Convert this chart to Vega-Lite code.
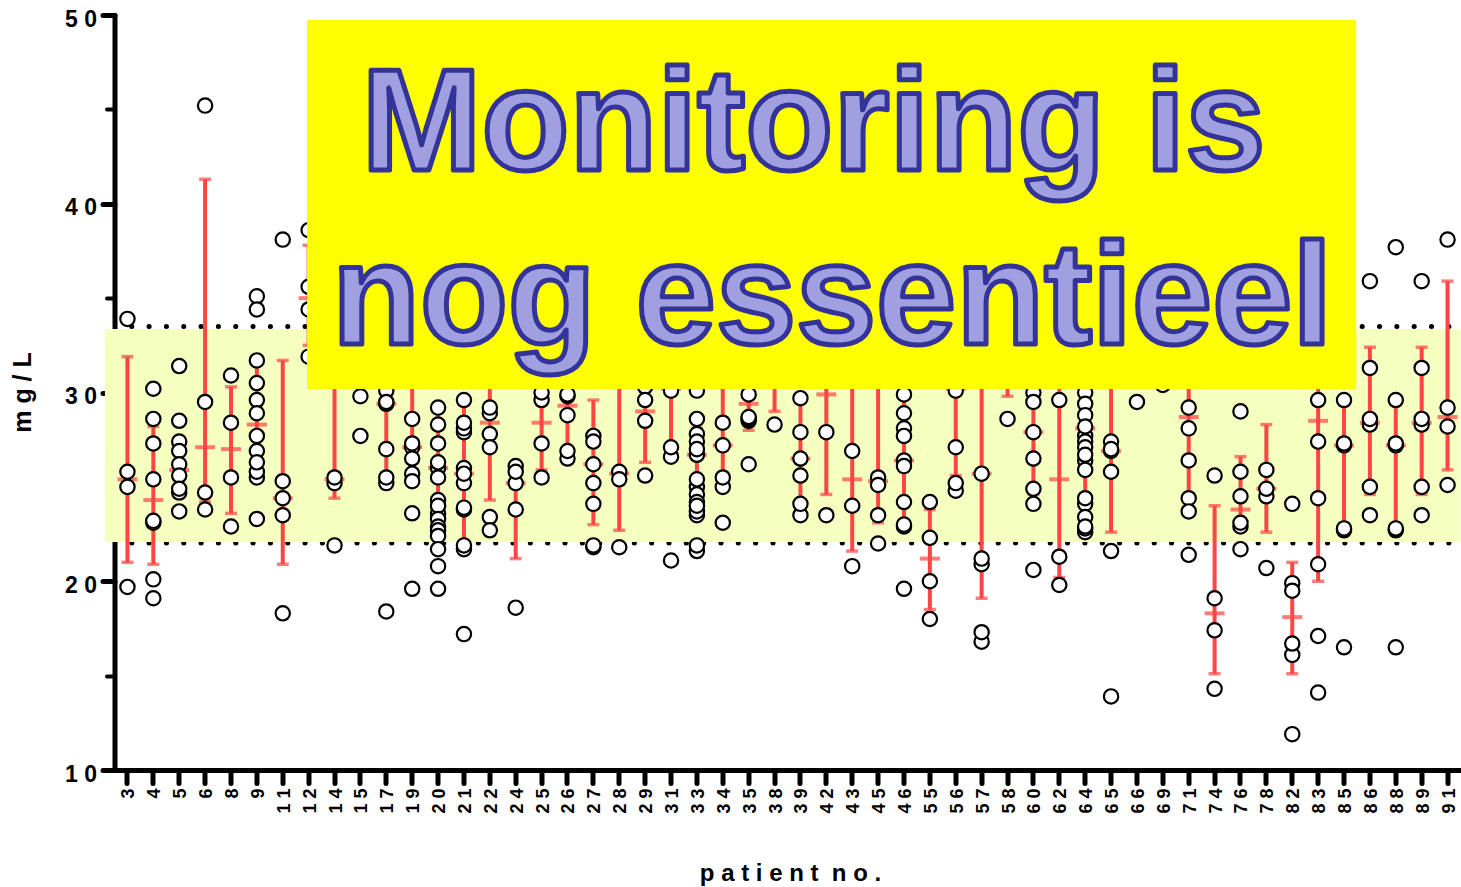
{"$schema":"https://vega.github.io/schema/vega-lite/v6.json","width":1346,"height":755,"autosize":{"type":"none"},"padding":{"left":114.5,"top":15,"right":0.5,"bottom":117},"background":"white","config":{"view":{"stroke":null},"font":"Liberation Sans"},
"datasets":{"points":[
{"patient":"3","value":33.9},{"patient":"3","value":25.8},{"patient":"3","value":25.0},{"patient":"3","value":19.7},
{"patient":"4","value":30.2},{"patient":"4","value":28.6},{"patient":"4","value":27.3},{"patient":"4","value":25.4},{"patient":"4","value":23.1},{"patient":"4","value":23.2},{"patient":"4","value":20.1},{"patient":"4","value":19.1},
{"patient":"5","value":31.4},{"patient":"5","value":28.5},{"patient":"5","value":27.4},{"patient":"5","value":26.9},{"patient":"5","value":26.2},{"patient":"5","value":25.6},{"patient":"5","value":24.7},{"patient":"5","value":24.9},{"patient":"5","value":23.7},
{"patient":"6","value":45.2},{"patient":"6","value":29.5},{"patient":"6","value":24.7},{"patient":"6","value":23.8},
{"patient":"8","value":30.9},{"patient":"8","value":28.4},{"patient":"8","value":25.5},{"patient":"8","value":22.9},
{"patient":"9","value":35.1},{"patient":"9","value":34.4},{"patient":"9","value":31.7},{"patient":"9","value":30.5},{"patient":"9","value":29.6},{"patient":"9","value":28.9},{"patient":"9","value":27.7},{"patient":"9","value":26.9},{"patient":"9","value":25.5},{"patient":"9","value":25.8},{"patient":"9","value":26.3},{"patient":"9","value":23.3},
{"patient":"11","value":38.1},{"patient":"11","value":25.3},{"patient":"11","value":24.4},{"patient":"11","value":23.5},{"patient":"11","value":18.3},
{"patient":"12","value":38.6},{"patient":"12","value":35.6},{"patient":"12","value":34.4},{"patient":"12","value":31.9},
{"patient":"14","value":25.2},{"patient":"14","value":25.5},{"patient":"14","value":21.9},
{"patient":"15","value":29.8},{"patient":"15","value":27.7},
{"patient":"17","value":30.1},{"patient":"17","value":29.4},{"patient":"17","value":29.5},{"patient":"17","value":27.0},{"patient":"17","value":25.2},{"patient":"17","value":25.5},{"patient":"17","value":18.4},
{"patient":"19","value":28.6},{"patient":"19","value":27.1},{"patient":"19","value":27.3},{"patient":"19","value":26.5},{"patient":"19","value":25.7},{"patient":"19","value":25.3},{"patient":"19","value":23.6},{"patient":"19","value":19.6},
{"patient":"20","value":29.2},{"patient":"20","value":28.3},{"patient":"20","value":27.3},{"patient":"20","value":26.0},{"patient":"20","value":26.3},{"patient":"20","value":25.5},{"patient":"20","value":24.3},{"patient":"20","value":23.6},{"patient":"20","value":24.0},{"patient":"20","value":23.3},{"patient":"20","value":22.9},{"patient":"20","value":22.7},{"patient":"20","value":22.4},{"patient":"20","value":21.7},{"patient":"20","value":20.8},{"patient":"20","value":19.6},
{"patient":"21","value":29.6},{"patient":"21","value":27.9},{"patient":"21","value":28.1},{"patient":"21","value":28.4},{"patient":"21","value":26.0},{"patient":"21","value":25.2},{"patient":"21","value":25.7},{"patient":"21","value":23.8},{"patient":"21","value":23.9},{"patient":"21","value":21.7},{"patient":"21","value":21.9},{"patient":"21","value":17.2},
{"patient":"22","value":28.9},{"patient":"22","value":29.2},{"patient":"22","value":27.8},{"patient":"22","value":27.1},{"patient":"22","value":23.4},{"patient":"22","value":22.7},
{"patient":"24","value":26.1},{"patient":"24","value":25.2},{"patient":"24","value":25.8},{"patient":"24","value":23.8},{"patient":"24","value":18.6},
{"patient":"25","value":29.6},{"patient":"25","value":30.0},{"patient":"25","value":27.3},{"patient":"25","value":25.5},
{"patient":"26","value":29.8},{"patient":"26","value":29.9},{"patient":"26","value":28.8},{"patient":"26","value":26.5},{"patient":"26","value":26.9},
{"patient":"27","value":27.7},{"patient":"27","value":27.4},{"patient":"27","value":26.2},{"patient":"27","value":25.2},{"patient":"27","value":24.1},{"patient":"27","value":21.8},{"patient":"27","value":21.9},
{"patient":"28","value":25.8},{"patient":"28","value":25.4},{"patient":"28","value":21.8},
{"patient":"29","value":30.3},{"patient":"29","value":29.6},{"patient":"29","value":28.5},{"patient":"29","value":25.6},
{"patient":"31","value":30.1},{"patient":"31","value":26.6},{"patient":"31","value":27.1},{"patient":"31","value":21.1},
{"patient":"33","value":30.1},{"patient":"33","value":28.6},{"patient":"33","value":27.8},{"patient":"33","value":27.4},{"patient":"33","value":26.7},{"patient":"33","value":27.0},{"patient":"33","value":25.0},{"patient":"33","value":25.4},{"patient":"33","value":24.6},{"patient":"33","value":23.5},{"patient":"33","value":23.7},{"patient":"33","value":24.2},{"patient":"33","value":24.0},{"patient":"33","value":21.6},{"patient":"33","value":21.9},
{"patient":"34","value":28.4},{"patient":"34","value":27.2},{"patient":"34","value":25.0},{"patient":"34","value":25.5},{"patient":"34","value":23.1},
{"patient":"35","value":29.9},{"patient":"35","value":28.5},{"patient":"35","value":28.6},{"patient":"35","value":28.7},{"patient":"35","value":26.2},
{"patient":"38","value":28.3},
{"patient":"39","value":29.7},{"patient":"39","value":27.9},{"patient":"39","value":26.5},{"patient":"39","value":25.6},{"patient":"39","value":23.5},{"patient":"39","value":24.1},
{"patient":"42","value":27.9},{"patient":"42","value":23.5},
{"patient":"43","value":26.9},{"patient":"43","value":24.0},{"patient":"43","value":20.8},
{"patient":"45","value":25.5},{"patient":"45","value":25.1},{"patient":"45","value":23.5},{"patient":"45","value":22.0},
{"patient":"46","value":29.9},{"patient":"46","value":28.9},{"patient":"46","value":28.1},{"patient":"46","value":27.7},{"patient":"46","value":26.4},{"patient":"46","value":26.1},{"patient":"46","value":24.2},{"patient":"46","value":22.9},{"patient":"46","value":23.0},{"patient":"46","value":19.6},
{"patient":"55","value":24.2},{"patient":"55","value":22.3},{"patient":"55","value":20.0},{"patient":"55","value":18.0},
{"patient":"56","value":30.1},{"patient":"56","value":27.1},{"patient":"56","value":24.8},{"patient":"56","value":25.2},
{"patient":"57","value":25.7},{"patient":"57","value":20.9},{"patient":"57","value":21.2},{"patient":"57","value":16.8},{"patient":"57","value":17.3},
{"patient":"58","value":28.6},
{"patient":"60","value":30.0},{"patient":"60","value":29.5},{"patient":"60","value":27.9},{"patient":"60","value":26.5},{"patient":"60","value":24.9},{"patient":"60","value":24.1},{"patient":"60","value":20.6},
{"patient":"62","value":29.6},{"patient":"62","value":21.3},{"patient":"62","value":19.8},
{"patient":"64","value":30.0},{"patient":"64","value":29.4},{"patient":"64","value":28.8},{"patient":"64","value":27.7},{"patient":"64","value":27.4},{"patient":"64","value":27.1},{"patient":"64","value":28.2},{"patient":"64","value":26.4},{"patient":"64","value":25.9},{"patient":"64","value":26.7},{"patient":"64","value":24.1},{"patient":"64","value":24.4},{"patient":"64","value":23.4},{"patient":"64","value":22.6},{"patient":"64","value":22.8},{"patient":"64","value":22.9},
{"patient":"65","value":27.4},{"patient":"65","value":26.9},{"patient":"65","value":27.0},{"patient":"65","value":25.8},{"patient":"65","value":21.6},{"patient":"65","value":13.9},
{"patient":"66","value":29.5},
{"patient":"69","value":30.4},
{"patient":"71","value":29.2},{"patient":"71","value":28.1},{"patient":"71","value":26.4},{"patient":"71","value":24.4},{"patient":"71","value":23.7},{"patient":"71","value":21.4},
{"patient":"74","value":25.6},{"patient":"74","value":19.1},{"patient":"74","value":17.4},{"patient":"74","value":14.3},
{"patient":"76","value":29.0},{"patient":"76","value":25.8},{"patient":"76","value":24.5},{"patient":"76","value":22.9},{"patient":"76","value":23.1},{"patient":"76","value":21.7},
{"patient":"78","value":25.9},{"patient":"78","value":24.5},{"patient":"78","value":24.9},{"patient":"78","value":20.7},
{"patient":"82","value":24.1},{"patient":"82","value":19.9},{"patient":"82","value":19.5},{"patient":"82","value":16.1},{"patient":"82","value":16.7},{"patient":"82","value":11.9},
{"patient":"83","value":29.6},{"patient":"83","value":27.4},{"patient":"83","value":24.4},{"patient":"83","value":20.9},{"patient":"83","value":17.1},{"patient":"83","value":14.1},
{"patient":"85","value":29.6},{"patient":"85","value":27.2},{"patient":"85","value":27.3},{"patient":"85","value":22.7},{"patient":"85","value":22.8},{"patient":"85","value":16.5},
{"patient":"86","value":35.9},{"patient":"86","value":31.3},{"patient":"86","value":28.3},{"patient":"86","value":28.6},{"patient":"86","value":25.0},{"patient":"86","value":23.5},
{"patient":"88","value":37.7},{"patient":"88","value":29.6},{"patient":"88","value":27.2},{"patient":"88","value":27.3},{"patient":"88","value":22.7},{"patient":"88","value":22.8},{"patient":"88","value":16.5},
{"patient":"89","value":35.9},{"patient":"89","value":31.3},{"patient":"89","value":28.3},{"patient":"89","value":28.6},{"patient":"89","value":25.0},{"patient":"89","value":23.5},
{"patient":"91","value":38.1},{"patient":"91","value":29.2},{"patient":"91","value":28.2},{"patient":"91","value":25.1}
],
"stats":[
{"patient":"3","mean":25.4,"low":21.0,"high":31.9},{"patient":"4","mean":24.3,"low":20.9,"high":28.2},{"patient":"5","mean":25.9,"low":24.6,"high":27.2},{"patient":"6","mean":27.1,"low":24.2,"high":41.3},{"patient":"8","mean":27.0,"low":23.6,"high":30.3},{"patient":"9","mean":28.3,"low":25.3,"high":31.7},{"patient":"11","mean":24.4,"low":20.9,"high":31.7},{"patient":"12","mean":35.0,"low":32.5,"high":37.8},{"patient":"14","mean":25.4,"low":24.4,"high":33.0},{"patient":"17","mean":29.4,"low":25.2,"high":33.0},{"patient":"19","mean":27.1,"low":25.4,"high":33.0},{"patient":"20","mean":26.0,"low":22.4,"high":29.2},{"patient":"21","mean":25.7,"low":21.9,"high":29.4},{"patient":"22","mean":28.4,"low":24.3,"high":33.0},{"patient":"24","mean":25.2,"low":21.2,"high":26.0},{"patient":"25","mean":28.4,"low":25.9,"high":31.0},{"patient":"26","mean":29.3,"low":26.5,"high":32.0},{"patient":"27","mean":26.2,"low":23.0,"high":29.6},{"patient":"28","mean":25.7,"low":22.7,"high":33.0},{"patient":"29","mean":29.0,"low":26.3,"high":31.5},{"patient":"31","mean":30.2,"low":26.6,"high":33.0},{"patient":"33","mean":26.7,"low":25.0,"high":28.1},{"patient":"34","mean":27.2,"low":25.0,"high":33.0},{"patient":"35","mean":29.4,"low":28.0,"high":31.0},{"patient":"38","mean":31.5,"low":29.0,"high":33.0},{"patient":"39","mean":26.5,"low":24.1,"high":29.7},{"patient":"42","mean":29.9,"low":24.6,"high":33.0},{"patient":"43","mean":25.4,"low":21.6,"high":33.0},{"patient":"45","mean":25.3,"low":23.1,"high":33.0},{"patient":"46","mean":26.4,"low":23.0,"high":29.9},{"patient":"55","mean":21.2,"low":18.5,"high":23.8},{"patient":"56","mean":30.2,"low":25.6,"high":33.0},{"patient":"57","mean":25.7,"low":19.1,"high":33.0},{"patient":"58","mean":31.5,"low":29.8,"high":33.0},{"patient":"60","mean":27.9,"low":24.6,"high":33.0},{"patient":"62","mean":25.4,"low":20.2,"high":33.0},{"patient":"64","mean":28.1,"low":23.0,"high":30.0},{"patient":"65","mean":26.9,"low":22.6,"high":33.0},{"patient":"71","mean":28.7,"low":23.9,"high":33.0},{"patient":"74","mean":18.3,"low":15.1,"high":24.0},{"patient":"76","mean":23.8,"low":23.1,"high":26.6},{"patient":"78","mean":24.9,"low":22.6,"high":28.3},{"patient":"82","mean":18.1,"low":15.1,"high":21.0},{"patient":"83","mean":28.5,"low":20.0,"high":33.0},{"patient":"85","mean":27.2,"low":22.8,"high":29.7},{"patient":"86","mean":28.4,"low":24.6,"high":32.4},{"patient":"88","mean":27.2,"low":22.8,"high":29.7},{"patient":"89","mean":28.4,"low":24.6,"high":32.4},{"patient":"91","mean":28.7,"low":25.9,"high":35.9}
]},
"resolve":{"scale":{"x":"independent"}},
"layer":[
{"data":{"values":[{"name":"reference range"}]},"layer":[
{"mark":{"type":"rule","color":"black","strokeWidth":5,"strokeCap":"round","strokeDash":[0.1,17.23]},"encoding":{"x":{"datum":0.665,"type":"quantitative","scale":{"domain":[0,52]},"axis":null},"x2":{"datum":52},"y":{"datum":33.5,"type":"quantitative","scale":{"domain":[10,50],"nice":false,"zero":false},"axis":{"title":"m g / L","titleFontSize":25,"titleFontWeight":"bold","titleColor":"black","titleX":-79.5,"titleY":377,"values":[10,15,20,25,30,35,40,45,50],"labelExpr":"datum.value%10==0 ? replace(datum.label,/(.)(.)/,'$1 $2') : ''","labelFontSize":23,"labelFontWeight":"bold","labelColor":"black","labelPadding":6,"labelOffset":4,"grid":false,"domainColor":"black","domainWidth":5,"domainCap":"round","tickColor":"black","tickCap":"round","tickWidth":{"condition":{"test":"datum.value%10==0","value":5},"value":4},"tickSize":{"condition":{"test":"datum.value%10==0","value":12},"value":8}}}}},
{"mark":{"type":"rule","color":"black","strokeWidth":5,"strokeCap":"round","strokeDash":[0.1,17.23]},"encoding":{"x":{"datum":0.665,"type":"quantitative","scale":{"domain":[0,52]},"axis":null},"x2":{"datum":52},"y":{"datum":22.03,"type":"quantitative"}}},
{"mark":{"type":"rect","color":"#f5ffc0","clip":false},"encoding":{"x":{"datum":-0.37,"type":"quantitative","scale":{"domain":[0,52]},"axis":null},"x2":{"datum":52},"y":{"datum":22.08,"type":"quantitative"},"y2":{"datum":33.37}}}
]},
{"layer":[
{"data":{"name":"stats"},"mark":{"type":"rule","color":"#ff4444","strokeWidth":4},"encoding":{"x":{"field":"patient","type":"nominal","sort":null,"title":"p a t i e n t \u00a0n o .","scale":{"type":"band","paddingInner":0,"paddingOuter":0,"domain":["3","4","5","6","8","9","11","12","14","15","17","19","20","21","22","24","25","26","27","28","29","31","33","34","35","38","39","42","43","45","46","55","56","57","58","60","62","64","65","66","69","71","74","76","78","82","83","85","86","88","89","91"]},"axis":{"orient":"bottom","labelAngle":270,"labelExpr":"replace(datum.label,/(.)(.)/,'$1 $2')","labelFontSize":18,"labelFontWeight":"bold","labelColor":"black","labelPadding":5,"labelOffset":2,"labelOverlap":false,"domainColor":"black","domainWidth":5,"tickColor":"black","tickWidth":5,"tickSize":13,"tickCap":"round","titleFontSize":24,"titleFontWeight":"bold","titleColor":"black","titleX":675.5,"titleY":110,"titleBaseline":"alphabetic","grid":false}},"y":{"field":"low","type":"quantitative"},"y2":{"field":"high"}}},
{"data":{"name":"stats"},"mark":{"type":"tick","color":"#ff4444","thickness":3.5,"size":12},"encoding":{"x":{"field":"patient","type":"nominal"},"y":{"field":"low","type":"quantitative"}}},
{"data":{"name":"stats"},"mark":{"type":"tick","color":"#ff4444","thickness":3.5,"size":12},"encoding":{"x":{"field":"patient","type":"nominal"},"y":{"field":"high","type":"quantitative"}}},
{"data":{"name":"stats"},"mark":{"type":"tick","color":"#ff4444","thickness":4,"size":20},"encoding":{"x":{"field":"patient","type":"nominal"},"y":{"field":"mean","type":"quantitative"}}},
{"data":{"name":"points"},"mark":{"type":"point","shape":"circle","filled":false,"fill":"white","fillOpacity":1,"stroke":"black","strokeWidth":2.2,"opacity":1,"size":205,"clip":false},"encoding":{"x":{"field":"patient","type":"nominal"},"y":{"field":"value","type":"quantitative"}}}
]},
{"layer":[
{"data":{"values":[{"name":"banner"}]},"mark":{"type":"rect","color":"#ffff00"},"encoding":{"x":{"datum":7.44,"type":"quantitative","scale":{"domain":[0,52]},"axis":null},"x2":{"datum":47.97},"y":{"datum":30.19,"type":"quantitative"},"y2":{"datum":49.74}}},
{"data":{"values":[{"label":"Monitoring is"}]},"mark":{"type":"text","align":"left","baseline":"alphabetic","font":"Liberation Sans","fontWeight":"bold","fontSize":144,"fill":"#a0a0e0","stroke":"#333399","strokeWidth":5,"strokeJoin":"round"},"encoding":{"text":{"field":"label"},"x":{"datum":9.54,"type":"quantitative","scale":{"domain":[0,52]},"axis":null},"y":{"datum":41.8,"type":"quantitative"}}},
{"data":{"values":[{"label":"nog essentieel"}]},"mark":{"type":"text","align":"left","baseline":"alphabetic","font":"Liberation Sans","fontWeight":"bold","fontSize":144,"fill":"#a0a0e0","stroke":"#333399","strokeWidth":5,"strokeJoin":"round"},"encoding":{"text":{"field":"label"},"x":{"datum":8.4,"type":"quantitative","scale":{"domain":[0,52]},"axis":null},"y":{"datum":32.58,"type":"quantitative"}}}
]}
]}
